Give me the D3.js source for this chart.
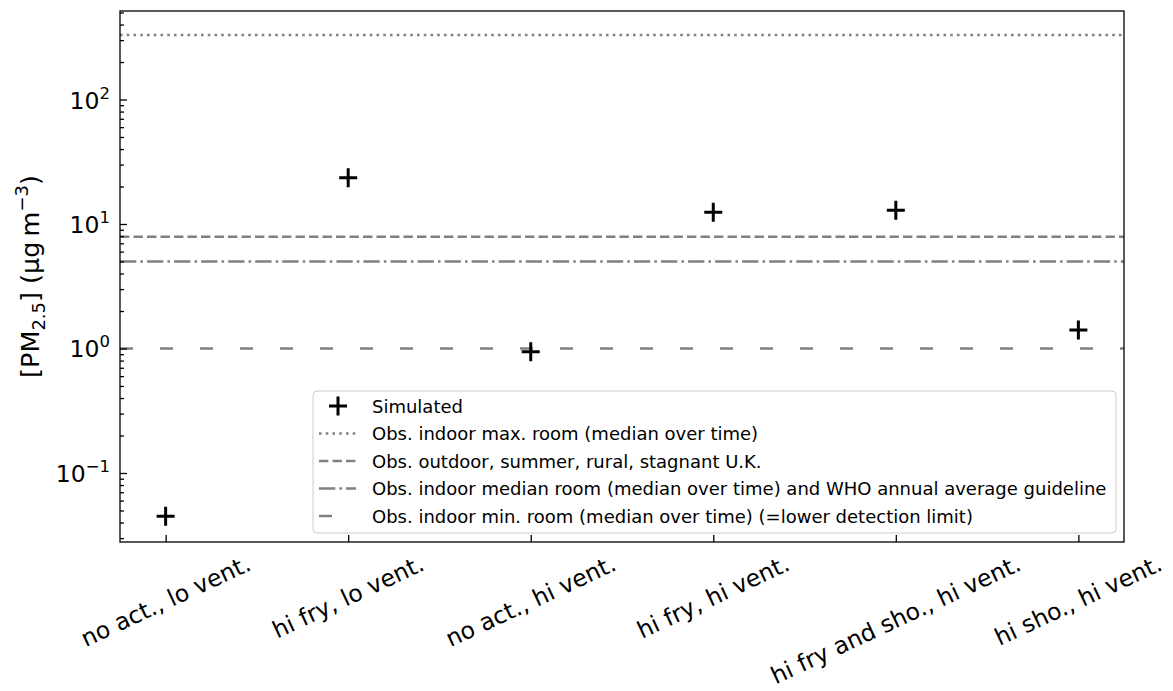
<!DOCTYPE html>
<html>
<head>
<meta charset="utf-8">
<script src="https://cdn.jsdelivr.net/npm/d3@7"></script>
<style>
  html, body { margin: 0; padding: 0; background: #fff; }
  svg { display: block; font-family: "DejaVu Sans", sans-serif; }
</style>
</head>
<body>
<svg id="chart" width="1173" height="691"></svg>
<script>
// ---------------- data ----------------
const categories = ["no act., lo vent.", "hi fry, lo vent.", "no act., hi vent.", "hi fry, hi vent.", "hi fry and sho., hi vent.", "hi sho., hi vent."];
const simulated = [0.045, 23.5, 0.94, 12.4, 12.9, 1.41];
const refLabels = [
  "Obs. indoor max. room (median over time)",
  "Obs. outdoor, summer, rural, stagnant U.K.",
  "Obs. indoor median room (median over time) and WHO annual average guideline",
  "Obs. indoor min. room (median over time) (=lower detection limit)"
];
const refValues = [330, 7.9, 5.0, 1.0];
const yTickValues = [0.1, 1, 10, 100];
const yTickExponents = ["\u22121", "0", "1", "2"];
const yDomain = [0.0279, 514];
const simulatedLabel = "Simulated";

// ---------------- styles / layout ----------------
const dashStyles = ["2.55,4.2", "9.4,4.1", "16.3,4.1,2.55,4.1", "13,27"];
const W = 1173, H = 691;
const plot = { left: 120, right: 1124, top: 11, bottom: 542 };
const refColor = "#808080";
const tickFont = 23.5;
const legendFont = 18;
const xRot = 25;

const svg = d3.select("#chart");
svg.append("rect").attr("width", W).attr("height", H).attr("fill", "#fff");

const x = d3.scalePoint().domain(categories).range([plot.left, plot.right]).padding(0.25);
const y = d3.scaleLog().domain(yDomain).range([plot.bottom, plot.top]);

// reference lines
const g = svg.append("g");
g.selectAll("line.ref").data(refValues).join("line")
  .attr("class", "ref")
  .attr("x1", plot.left).attr("x2", plot.right)
  .attr("y1", d => y(d)).attr("y2", d => y(d))
  .attr("stroke", refColor).attr("stroke-width", 2.5)
  .attr("stroke-dasharray", (d, i) => dashStyles[i]);

// markers
const plusPath = "M-9,0H9M0,-9.5V9.5";
g.selectAll("path.sim").data(simulated).join("path")
  .attr("class", "sim")
  .attr("d", plusPath)
  .attr("transform", (d, i) => `translate(${x(categories[i])},${y(d)})`)
  .attr("stroke", "#000").attr("stroke-width", 3).attr("fill", "none");

// y axis (ticks inward)
const allTicks = y.ticks();
const majors = allTicks.filter(v => Math.abs(Math.log10(v) - Math.round(Math.log10(v))) < 1e-9);
const minors = allTicks.filter(v => !majors.includes(v));
const yAxisMajor = d3.axisLeft(y).tickValues(majors).tickSizeInner(-7).tickSizeOuter(0).tickFormat("");
const yAxisMinor = d3.axisLeft(y).tickValues(minors).tickSizeInner(-4).tickSizeOuter(0).tickFormat("");
const ya1 = svg.append("g").attr("transform", `translate(${plot.left},0)`).call(yAxisMajor);
const ya2 = svg.append("g").attr("transform", `translate(${plot.left},0)`).call(yAxisMinor);
[ya1, ya2].forEach(a => { a.select(".domain").remove(); a.selectAll("line").attr("stroke", "#000").attr("stroke-width", 1.3); });

// y tick labels with superscripts
const yl = svg.append("g");
yTickValues.forEach((v, i) => {
  const t = yl.append("text")
    .attr("x", plot.left - 10).attr("y", y(v) + 9)
    .attr("text-anchor", "end").attr("font-size", tickFont).attr("fill", "#000");
  t.append("tspan").text("10");
  t.append("tspan").attr("dy", -10).attr("font-size", 16.5).text(yTickExponents[i]);
});

// x axis (ticks inward)
const xAxis = d3.axisBottom(x).tickSizeInner(-7).tickSizeOuter(0).tickFormat("");
const xa = svg.append("g").attr("transform", `translate(0,${plot.bottom})`).call(xAxis);
xa.select(".domain").remove();
xa.selectAll("line").attr("stroke", "#000").attr("stroke-width", 1.3);

// rotated x labels
const ang = xRot * Math.PI / 180;
categories.forEach(c => {
  const t = svg.append("text")
    .attr("font-size", tickFont).attr("text-anchor", "middle")
    .attr("dominant-baseline", "central").attr("fill", "#000").text(c);
  const L = t.node().getComputedTextLength();
  const h = tickFont * 0.95;
  const half = (L * Math.sin(ang) + h * Math.cos(ang)) / 2;
  const cy = plot.bottom + 10 + half;
  t.attr("transform", `translate(${x(c)},${cy}) rotate(${-xRot})`);
});

// spines
svg.append("rect")
  .attr("x", plot.left).attr("y", plot.top)
  .attr("width", plot.right - plot.left).attr("height", plot.bottom - plot.top)
  .attr("fill", "none").attr("stroke", "#000").attr("stroke-width", 1.3);

// y axis label
const ylab = svg.append("text")
  .attr("transform", `translate(39,${(plot.top + plot.bottom) / 2}) rotate(-90)`)
  .attr("text-anchor", "middle").attr("font-size", 25.5).attr("fill", "#000");
ylab.append("tspan").text("[PM");
ylab.append("tspan").attr("dy", 5.5).attr("font-size", 18).text("2.5");
ylab.append("tspan").attr("dy", -5.5).text("] (\u00B5g\u2009m");
ylab.append("tspan").attr("dy", -11).attr("font-size", 18).text("\u22123");
ylab.append("tspan").attr("dy", 11).text(")");

// legend
const leg = { x: 313, y: 391, w: 803, h: 142 };
const lg = svg.append("g");
lg.append("rect")
  .attr("x", leg.x).attr("y", leg.y).attr("width", leg.w).attr("height", leg.h)
  .attr("rx", 4).attr("ry", 4)
  .attr("fill", "#fff").attr("fill-opacity", 0.8)
  .attr("stroke", "#cccccc").attr("stroke-width", 1);
const rowY = d3.scaleLinear().domain([0, 4]).range([406, 516]);
const legendItems = [simulatedLabel].concat(refLabels);
legendItems.forEach((lab, i) => {
  const cy = rowY(i);
  if (i === 0) {
    lg.append("path").attr("d", plusPath)
      .attr("transform", `translate(338,${cy})`)
      .attr("stroke", "#000").attr("stroke-width", 3).attr("fill", "none");
  } else {
    lg.append("line")
      .attr("x1", 319).attr("x2", 356).attr("y1", cy).attr("y2", cy)
      .attr("stroke", refColor).attr("stroke-width", 2.5)
      .attr("stroke-dasharray", dashStyles[i - 1]);
  }
  lg.append("text").attr("x", 372).attr("y", cy + 6.5)
    .attr("font-size", legendFont).attr("fill", "#000").text(lab);
});
</script>
</body>
</html>
